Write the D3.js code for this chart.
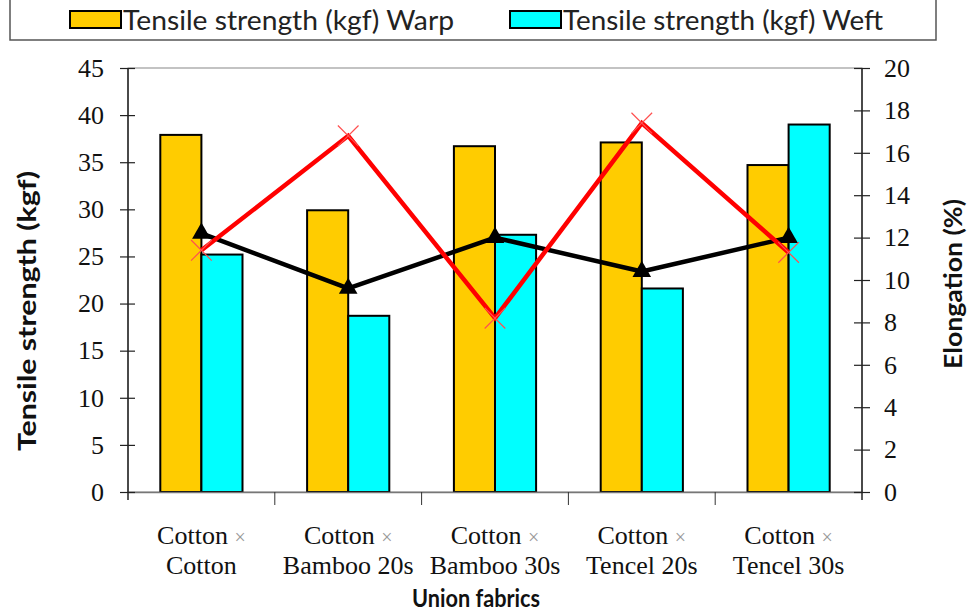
<!DOCTYPE html>
<html><head><meta charset="utf-8">
<script src="https://cdn.jsdelivr.net/npm/d3@7"></script>
<style>body{margin:0;background:#fff}svg{display:block}</style>
</head><body>
<svg id="c" width="968" height="615"></svg>
<script>
const categoriesLine1 = ["Cotton", "Cotton", "Cotton", "Cotton", "Cotton"];
const categoriesLine2 = ["Cotton", "Bamboo 20s", "Bamboo 30s", "Tencel 20s", "Tencel 30s"];
const warpStrength = [37.9, 29.9, 36.7, 37.1, 34.7];
const weftStrength = [25.2, 18.7, 27.3, 21.6, 39.0];
const elongationBlack = [12.2, 9.6, 12.0, 10.4, 12.0];
const elongationRed = [11.4, 16.8, 8.2, 17.4, 11.3];
const leftTicks = [0, 5, 10, 15, 20, 25, 30, 35, 40, 45];
const rightTicks = [0, 2, 4, 6, 8, 10, 12, 14, 16, 18, 20];
const seriesNames = ["Tensile strength (kgf) Warp", "Tensile strength (kgf) Weft"];

const svg = d3.select("#c");
const L = 128, R = 862, T = 68, B = 492;
const idx = d3.range(categoriesLine2.length);
const x = d3.scaleBand().domain(idx).range([L, R]).padding(0);
const sub = d3.scaleBand().domain([0, 1]).range([0, x.bandwidth()]).paddingInner(0).paddingOuter(0.786);
const yL = d3.scaleLinear().domain([0, 45]).range([B, T]);
const yR = d3.scaleLinear().domain([0, 20]).range([B, T]);
const serif = "'Liberation Serif','Times New Roman',serif";
const sans = "Lato,'Open Sans',sans-serif";

// plot frame
svg.append("rect").attr("x", L).attr("y", T).attr("width", R - L).attr("height", B - T)
  .attr("fill", "none").attr("stroke", "#888").attr("stroke-width", 1);

// bars
const colors = ["#FFCC00", "#00FFFF"];
[warpStrength, weftStrength].forEach((vals, s) => {
  svg.append("g").selectAll("rect").data(vals).join("rect")
    .attr("x", (d, i) => x(i) + sub(s))
    .attr("y", d => yL(d))
    .attr("width", sub.bandwidth())
    .attr("height", d => B - yL(d))
    .attr("fill", colors[s]).attr("stroke", "#000").attr("stroke-width", 2);
});

// x axis
const gx = svg.append("g").attr("transform", `translate(0,${B})`)
  .call(d3.axisBottom(x).tickValues([]).tickSizeOuter(0));
gx.select(".domain").attr("stroke", "#777").attr("stroke-width", 1.5);
svg.append("g").selectAll("line").data(d3.range(1, idx.length)).join("line")
  .attr("x1", d => x(d)).attr("x2", d => x(d)).attr("y1", B).attr("y2", B + 13)
  .attr("stroke", "#333").attr("stroke-width", 1);

// left axis
const gl = svg.append("g").attr("transform", `translate(${L},0)`)
  .call(d3.axisLeft(yL).tickValues(leftTicks).tickSize(8).tickPadding(16).tickSizeOuter(0));
gl.select(".domain").attr("stroke", "#222").attr("stroke-width", 1.5).attr("d", `M0,${T}V${B + 8}`);
gl.selectAll(".tick line").attr("x1", 7).attr("stroke", "#222").attr("stroke-width", 1.2);
gl.selectAll(".tick text").attr("font-family", serif).attr("font-size", 26).attr("fill", "#111");

// right axis
const gr = svg.append("g").attr("transform", `translate(${R},0)`)
  .call(d3.axisRight(yR).tickValues(rightTicks).tickSize(8).tickPadding(14).tickSizeOuter(0));
gr.select(".domain").attr("stroke", "#222").attr("stroke-width", 1.5).attr("d", `M0,${T}V${B + 8}`);
gr.selectAll(".tick line").attr("x1", -8).attr("stroke", "#222").attr("stroke-width", 1.2);
gr.selectAll(".tick text").attr("font-family", serif).attr("font-size", 26).attr("fill", "#111");

// x labels
const xl = svg.append("g").selectAll("g").data(idx).join("g")
  .attr("transform", i => `translate(${x(i) + x.bandwidth() / 2},0)`);
const t1 = xl.append("text").attr("y", 544).attr("text-anchor", "middle")
  .attr("font-family", serif).attr("font-size", 26).attr("fill", "#111");
t1.append("tspan").text(i => categoriesLine1[i] + " ");
t1.append("tspan").text("×").attr("fill", "#999").attr("font-size", 20);
xl.append("text").attr("y", 574).attr("text-anchor", "middle")
  .attr("font-family", serif).attr("font-size", 26).attr("fill", "#111")
  .text(i => categoriesLine2[i]);

// lines
const cx = i => x(i) + x.bandwidth() / 2;
const line = d3.line().x((d, i) => cx(i)).y(d => yR(d));
svg.append("path").datum(elongationBlack).attr("d", line)
  .attr("fill", "none").attr("stroke", "#000").attr("stroke-width", 4.5).attr("stroke-linejoin", "round");
svg.append("g").selectAll("path").data(elongationBlack).join("path")
  .attr("d", d3.symbol().type(d3.symbolTriangle).size(150))
  .attr("transform", (d, i) => `translate(${cx(i)},${yR(d)})`).attr("fill", "#000");
svg.append("path").datum(elongationRed).attr("d", line)
  .attr("fill", "none").attr("stroke", "#FF0000").attr("stroke-width", 4.5).attr("stroke-linejoin", "miter");
svg.append("g").selectAll("path").data(elongationRed).join("path")
  .attr("d", d3.symbol().type(d3.symbolTimes).size(280))
  .attr("transform", (d, i) => `translate(${cx(i)},${yR(d)})`)
  .attr("fill", "none").attr("stroke", "#FF5050").attr("stroke-width", 1.2);

// titles
svg.append("text").attr("transform", "translate(36,311) rotate(-90)").attr("text-anchor", "middle")
  .attr("font-family", sans).attr("font-weight", "bold").attr("font-size", 24).attr("fill", "#111")
  .attr("textLength", 280).attr("lengthAdjust", "spacingAndGlyphs")
  .text("Tensile strength (kgf)");
svg.append("text").attr("transform", "translate(962,284) rotate(-90)").attr("text-anchor", "middle")
  .attr("font-family", sans).attr("font-weight", "bold").attr("font-size", 24).attr("fill", "#111")
  .attr("textLength", 170).attr("lengthAdjust", "spacingAndGlyphs")
  .text("Elongation (%)");
svg.append("text").attr("x", 476).attr("y", 607).attr("text-anchor", "middle")
  .attr("font-family", sans).attr("font-weight", "bold").attr("font-size", 25).attr("fill", "#111")
  .attr("textLength", 128).attr("lengthAdjust", "spacingAndGlyphs")
  .text("Union fabrics");

// legend
svg.append("rect").attr("x", 10).attr("y", -5).attr("width", 926).attr("height", 45)
  .attr("fill", "none").attr("stroke", "#555").attr("stroke-width", 1.5);
const legX = [70, 510], legW = [331, 320];
seriesNames.forEach((name, s) => {
  svg.append("rect").attr("x", legX[s]).attr("y", 11).attr("width", 51).attr("height", 17)
    .attr("fill", colors[s]).attr("stroke", "#000").attr("stroke-width", 2);
  svg.append("text").attr("x", legX[s] + 53).attr("y", 30)
    .attr("font-family", sans).attr("font-size", 27).attr("fill", "#222")
    .attr("textLength", legW[s]).attr("lengthAdjust", "spacingAndGlyphs").text(name);
});
</script>
</body></html>
